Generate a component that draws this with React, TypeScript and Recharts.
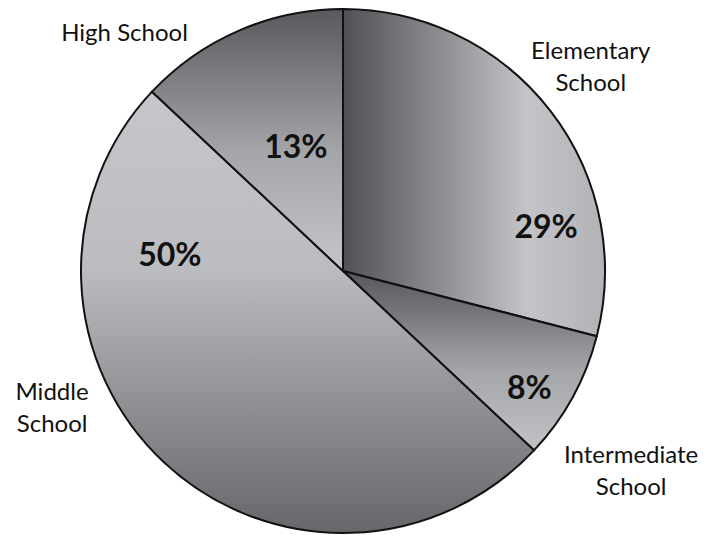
import { PieChart, Pie, Cell } from 'recharts';

const categories = ['Elementary School', 'Intermediate School', 'Middle School', 'High School'];
const categoryLines = [['Elementary', 'School'], ['Intermediate', 'School'], ['Middle', 'School'], ['High School']];
const shares = [29, 8, 50, 13];

const data = categories.map((name, i) => ({ name, value: shares[i] }));

// gradient ids per slice, same order as data
const fills = ['url(#gElem)', 'url(#gInter)', 'url(#gMiddle)', 'url(#gHigh)'];

// [angle in degrees, radius] for the label texts, per slice
const innerPos = [[12.5, 208], [-31.7, 219], [174.1, 174], [110.6, 134]];
const outerPos = [[39.7, 322], [-34.6, 350], [205, 321], [132.4, 324]];

const RAD = Math.PI / 180;

function renderLabel(props: any) {
  const { cx, cy, index, value } = props;
  const [ia, ir] = innerPos[index];
  const [oa, or] = outerPos[index];
  const ix = cx + ir * Math.cos(ia * RAD);
  const iy = cy - ir * Math.sin(ia * RAD);
  const ox = cx + or * Math.cos(oa * RAD);
  const oy = cy - or * Math.sin(oa * RAD);
  const lines = categoryLines[index];
  const lh = 32;
  return (
    <g>
      <text x={ix} y={iy} textAnchor="middle" dominantBaseline="central"
        fill="#111" fontSize={32} fontWeight={700} fontFamily="Lato, sans-serif">
        {value}%
      </text>
      {lines.map((ln, k) => (
        <text key={k} x={ox} y={oy + (k - (lines.length - 1) / 2) * lh}
          textAnchor="middle" dominantBaseline="central"
          fill="#111" fontSize={24} fontFamily="Lato, sans-serif">
          {ln}
        </text>
      ))}
    </g>
  );
}

export default function App() {
  return (
    <div style={{ position: 'absolute', left: 0, top: 0, width: 717, height: 536, background: '#fff' }}>
      <PieChart width={717} height={536}>
        <defs>
          <linearGradient id="gElem" x1="0" y1="0" x2="1" y2="0">
            <stop offset="0%" stopColor="#505155" />
            <stop offset="70%" stopColor="#c3c4c8" />
            <stop offset="100%" stopColor="#b2b3b7" />
          </linearGradient>
          <linearGradient id="gInter" x1="0" y1="0" x2="0" y2="1">
            <stop offset="0%" stopColor="#55565a" />
            <stop offset="55%" stopColor="#a4a5a9" />
            <stop offset="100%" stopColor="#c2c3c7" />
          </linearGradient>
          <linearGradient id="gMiddle" x1="0" y1="0" x2="0" y2="1">
            <stop offset="0%" stopColor="#c6c7cb" />
            <stop offset="40%" stopColor="#bbbcc0" />
            <stop offset="100%" stopColor="#66676b" />
          </linearGradient>
          <linearGradient id="gHigh" x1="0" y1="0" x2="0" y2="1">
            <stop offset="0%" stopColor="#58595d" />
            <stop offset="55%" stopColor="#a5a6aa" />
            <stop offset="100%" stopColor="#c5c6ca" />
          </linearGradient>
          <filter id="edgeShadow" x="-10%" y="-10%" width="120%" height="120%">
            <feDropShadow dx="0" dy="0" stdDeviation="2" floodColor="#000" floodOpacity="0.35" />
          </filter>
        </defs>
        <Pie
          data={data}
          dataKey="value"
          nameKey="name"
          cx={338}
          cy={266}
          outerRadius={262}
          startAngle={90}
          endAngle={-270}
          stroke="#111"
          strokeWidth={2}
          label={renderLabel}
          labelLine={false}
          isAnimationActive={false}
        >
          {data.map((d, i) => (
            <Cell key={d.name} fill={fills[i]} />
          ))}
        </Pie>
      </PieChart>
    </div>
  );
}
